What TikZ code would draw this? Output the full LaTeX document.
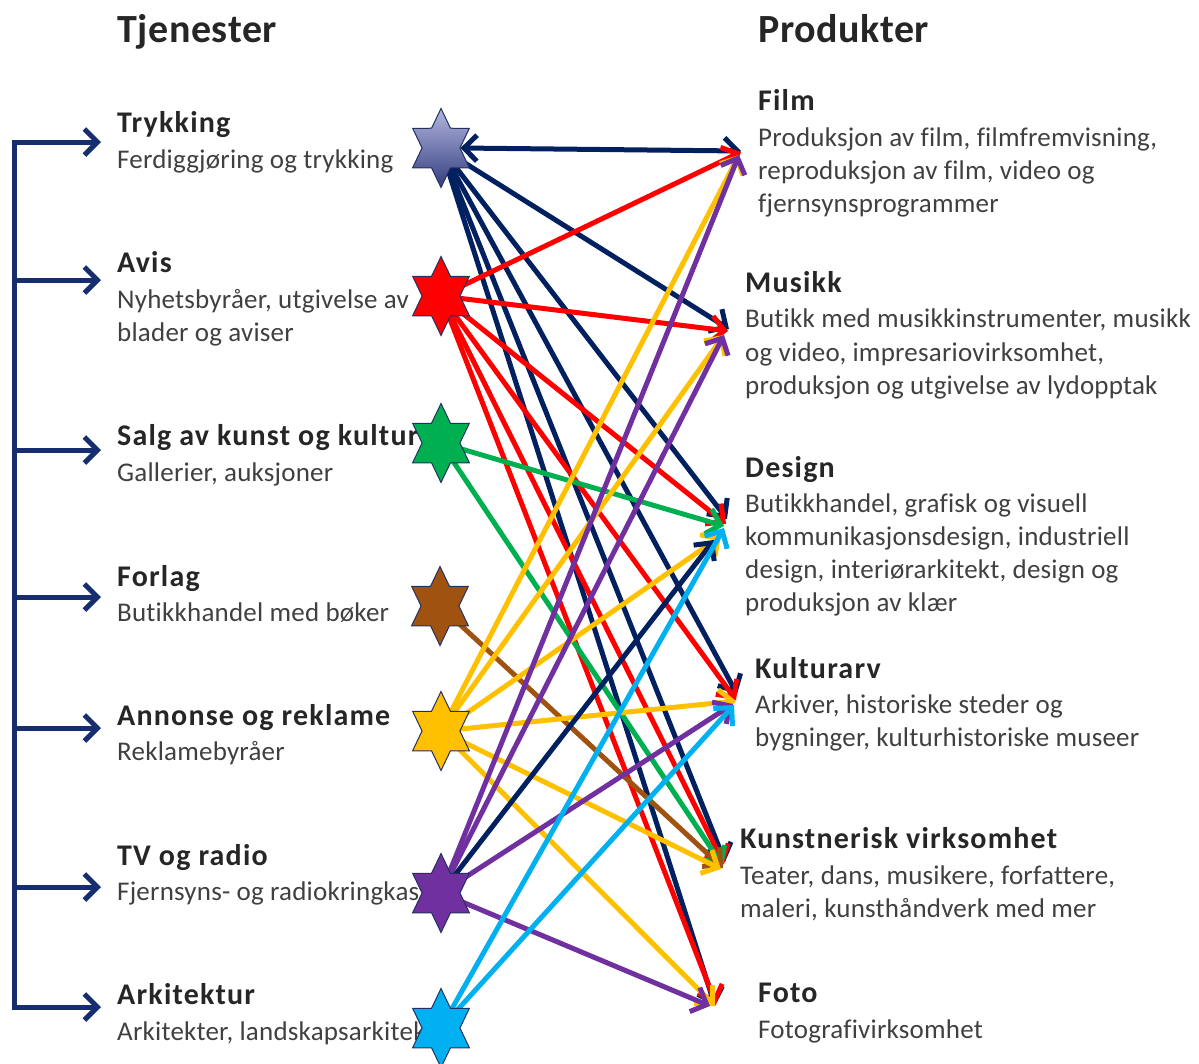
\documentclass[tikz,border=0pt]{standalone}
\usepackage{fontspec}
\setmainfont{Carlito}[Ligatures=CommonOff]
\usetikzlibrary{arrows.meta,shapes.geometric,backgrounds}

\definecolor{titlegray}{RGB}{38,38,38}
\definecolor{descgray}{RGB}{64,64,64}
\definecolor{bracketblue}{RGB}{22,46,112}
\definecolor{starrim}{RGB}{36,48,96}
\definecolor{cnavy}{RGB}{0,32,96}
\definecolor{cred}{RGB}{255,0,0}
\definecolor{cgreen}{RGB}{0,176,80}
\definecolor{cbrown}{RGB}{160,82,16}
\definecolor{cyellow}{RGB}{255,192,0}
\definecolor{cpurple}{RGB}{112,48,160}
\definecolor{ccyan}{RGB}{0,176,240}
\definecolor{starlight}{RGB}{178,182,222}
\definecolor{stardark}{RGB}{52,62,128}

\begin{document}
\begin{tikzpicture}[x=1pt,y=-1pt,
  heading/.style={anchor=base west,inner sep=0pt,font=\fontsize{40}{46}\selectfont\bfseries\addfontfeature{LetterSpace=1.5},text=titlegray},
  itemtitle/.style={anchor=base west,inner sep=0pt,font=\fontsize{30}{36}\selectfont\bfseries\addfontfeature{LetterSpace=4},text=titlegray},
  itemdesc/.style={anchor=base west,inner sep=0pt,font=\fontsize{27}{33}\selectfont\addfontfeature{LetterSpace=0.8},text=descgray},
  hexstar/.style={star,star points=6,star point ratio=1.732,minimum size=79pt,
    inner sep=0pt,xscale=0.83,transform shape,draw=starrim,line width=1pt},
  barb/.tip={Straight Barb[length=13pt,width=26pt]},
  link/.style={line width=5pt,-barb},
  branch/.style={line width=5pt,draw=bracketblue,-{Straight Barb[length=13pt,width=26pt]}}
]
\useasboundingbox (0,0) rectangle (1199,1063);

% column headings
\node[heading] (hl) at (117,42) {Tjenester};
\node[heading] (hr) at (758,42) {Produkter};

% services
\node[itemtitle] (tryk-t) at (117,132) {Trykking};
\node[itemdesc]  (tryk-d) at (117,168) {Ferdiggjøring og trykking};
\node[itemtitle] (avis-t) at (117,272) {Avis};
\node[itemdesc]  (avis-d1) at (117,308) {Nyhetsbyråer, utgivelse av};
\node[itemdesc]  (avis-d2) at (117,341) {blader og aviser};
\node[itemtitle] (salg-t) at (117,445) {Salg av kunst og kultur};
\node[itemdesc]  (salg-d) at (117,481) {Gallerier, auksjoner};
\node[itemtitle] (forl-t) at (117,586) {Forlag};
\node[itemdesc]  (forl-d) at (117,621) {Butikkhandel med bøker};
\node[itemtitle] (ann-t) at (117,725) {Annonse og reklame};
\node[itemdesc]  (ann-d) at (117,760) {Reklamebyråer};
\node[itemtitle] (tv-t) at (117,865) {TV og radio};
\node[itemdesc]  (tv-d) at (117,900) {Fjernsyns- og radiokringkas};
\node[itemtitle] (ark-t) at (117,1004) {Arkitektur};
\node[itemdesc]  (ark-d) at (117,1040) {Arkitekter, landskapsarkitek};

% products
\node[itemtitle] (film-t) at (758,110) {Film};
\node[itemdesc]  (film-d1) at (758,146) {Produksjon av film, filmfremvisning,};
\node[itemdesc]  (film-d2) at (758,179) {reproduksjon av film, video og};
\node[itemdesc]  (film-d3) at (758,212) {fjernsynsprogrammer};
\node[itemtitle] (mus-t) at (745,292) {Musikk};
\node[itemdesc]  (mus-d1) at (745,327) {Butikk med musikkinstrumenter, musikk};
\node[itemdesc]  (mus-d2) at (745,361) {og video, impresariovirksomhet,};
\node[itemdesc]  (mus-d3) at (745,394) {produksjon og utgivelse av lydopptak};
\node[itemtitle] (des-t) at (745,477) {Design};
\node[itemdesc]  (des-d1) at (745,512) {Butikkhandel, grafisk og visuell};
\node[itemdesc]  (des-d2) at (745,545) {kommunikasjonsdesign, industriell};
\node[itemdesc]  (des-d3) at (745,578) {design, interiørarkitekt, design og};
\node[itemdesc]  (des-d4) at (745,611) {produksjon av klær};
\node[itemtitle] (kul-t) at (755,678) {Kulturarv};
\node[itemdesc]  (kul-d1) at (755,713) {Arkiver, historiske steder og};
\node[itemdesc]  (kul-d2) at (755,746) {bygninger, kulturhistoriske museer};
\node[itemtitle] (kun-t) at (740,848) {Kunstnerisk virksomhet};
\node[itemdesc]  (kun-d1) at (740,884) {Teater, dans, musikere, forfattere,};
\node[itemdesc]  (kun-d2) at (740,917) {maleri, kunsthåndverk med mer};
\node[itemtitle] (foto-t) at (758,1002) {Foto};
\node[itemdesc]  (foto-d) at (758,1038) {Fotografivirksomhet};

% left bracket with branch arrows
\coordinate (br-top) at (14,140);
\coordinate (br-bot) at (14,1007);
\draw[line width=5pt,draw=bracketblue] (br-top) -- (br-bot);
\foreach \yy/\nm in {142/tryk,280/avis,450/salg,597/forl,728/ann,887/tv,1007/ark}{
  \coordinate (b-\nm) at (12,\yy);
  \coordinate (e-\nm) at (101,\yy);
  \draw[branch] (b-\nm) -- (e-\nm);
}

% service stars
\node[hexstar,top color=starlight,bottom color=stardark] (tryk) at (441,148) {};
\node[hexstar,fill=cred]    (avis) at (441,296) {};
\node[hexstar,fill=cgreen]  (salg) at (441,443) {};
\node[hexstar,fill=cbrown]  (forl) at (440,606) {};
\node[hexstar,fill=cyellow] (ann)  at (441,731) {};
\node[hexstar,fill=cpurple] (tv)   at (441,893) {};
\node[hexstar,fill=ccyan]   (ark)  at (441,1028) {};

% arrow tips at the products
\coordinate (film-in) at (741,151);
\coordinate (mus-in)  at (728,331);
\coordinate (des-in)  at (726,524);
\coordinate (kul-in)  at (736,700);
\coordinate (kun-in)  at (723,866);
\coordinate (foto-in) at (715,1006);

\begin{scope}[on background layer]
  % Trykking
  \draw[link,cnavy,barb-barb] (tryk.east) -- (film-in);
  \draw[link,cnavy] (tryk.center) -- ([shift={(1,-2)}]mus-in);
  \draw[link,cnavy] (tryk.center) -- ([shift={(1,-5)}]des-in);
  \draw[link,cnavy] (tryk.center) -- ([shift={(1,-6)}]kul-in);
  \draw[link,cnavy] (tryk.center) -- ([shift={(2,-4)}]kun-in);
  \draw[link,cnavy] (tryk.center) -- (foto-in);
  % Avis
  \draw[link,cred] (avis.center) -- ([shift={(0,1)}]film-in);
  \draw[link,cred] (avis.center) -- (mus-in);
  \draw[link,cred] (avis.center) -- (des-in);
  \draw[link,cred] (avis.center) -- (kul-in);
  \draw[link,cred] (avis.center) -- ([shift={(1,-2)}]kun-in);
  \draw[link,cred] (avis.center) -- ([shift={(1,-2)}]foto-in);
  % Salg av kunst og kultur
  \draw[link,cgreen] (salg.center) -- ([shift={(-2,2)}]des-in);
  \draw[link,cgreen] (salg.center) -- (kun-in);
  % Forlag
  \draw[link,cbrown] (forl.center) -- ([shift={(0,2)}]kun-in);
  % Annonse og reklame
  \draw[link,cyellow] (ann.center) -- ([shift={(-2,4)}]film-in);
  \draw[link,cyellow] (ann.center) -- ([shift={(-4,4)}]mus-in);
  \draw[link,cyellow] (ann.center) -- ([shift={(-5,12)}]des-in);
  \draw[link,cyellow] (ann.center) -- ([shift={(0,1)}]kul-in);
  \draw[link,cyellow] (ann.center) -- ([shift={(-2,3)}]kun-in);
  \draw[link,cyellow] (ann.center) -- (foto-in);
  % TV og radio
  \draw[link,cpurple] (tv.center) -- ([shift={(-2,4)}]film-in);
  \draw[link,cpurple] (tv.center) -- ([shift={(-4,4)}]mus-in);
  \draw[link,cnavy] (tv.center) -- ([shift={(-12,16)}]des-in);
  \draw[link,cpurple] (tv.center) -- ([shift={(-3,4)}]kul-in);
  \draw[link,cpurple] (tv.center) -- ([shift={(-5,0)}]foto-in);
  % Arkitektur
  \draw[link,ccyan] (ark.center) -- ([shift={(-2,4)}]des-in);
  \draw[link,ccyan] (ark.center) -- ([shift={(-2,5)}]kul-in);
\end{scope}
\end{tikzpicture}
\end{document}
